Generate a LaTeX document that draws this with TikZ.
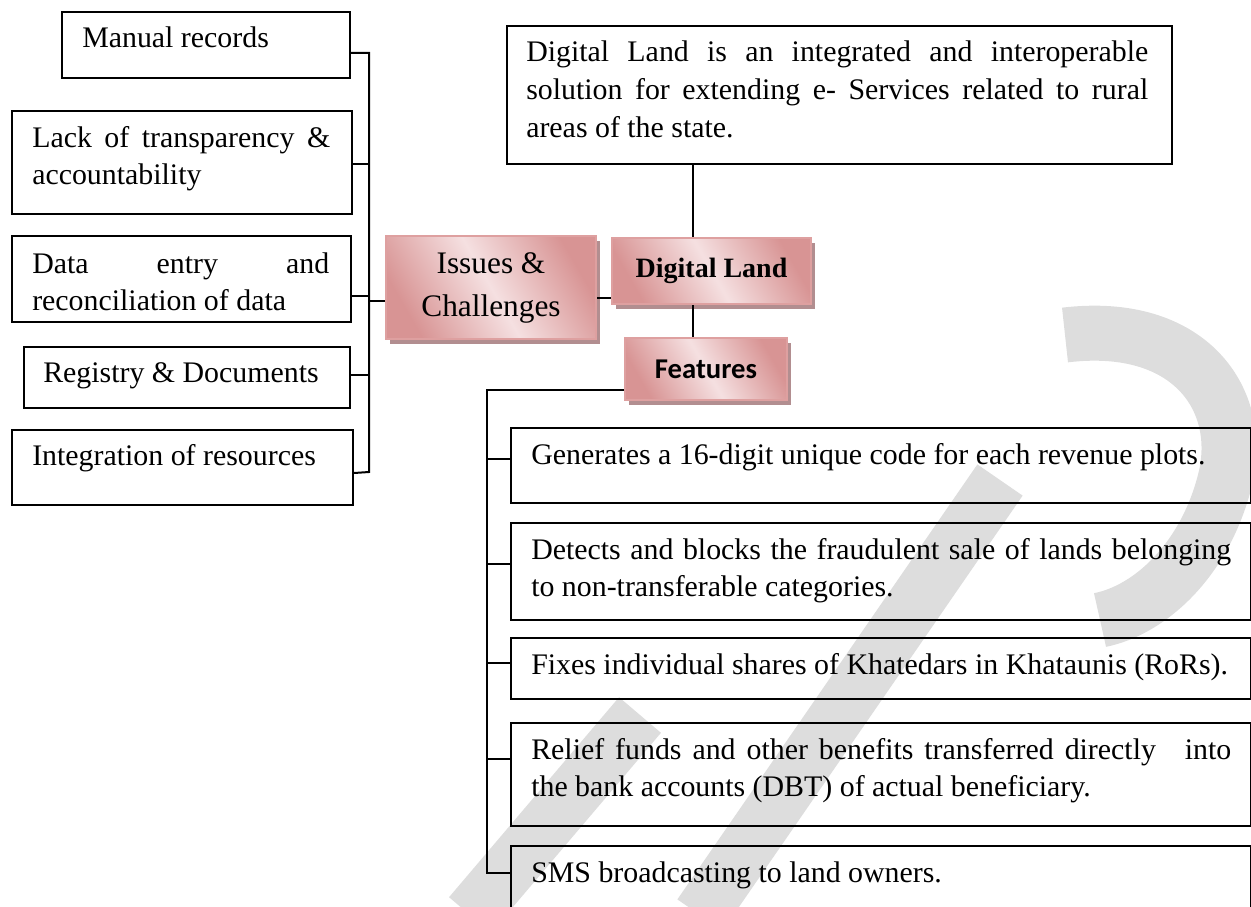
\documentclass[tikz,border=0pt]{standalone}
\usepackage{fontspec}
\setmainfont{Liberation Serif}
\newfontfamily\calfont{Carlito}
\usetikzlibrary{shadows}
\newdimen\px \px=0.75pt
\definecolor{pinkL}{RGB}{245,224,225}
\definecolor{pinkD}{RGB}{216,148,148}
\definecolor{pinkE}{RGB}{222,160,160}
\definecolor{shadowc}{RGB}{178,142,144}
\definecolor{wmc}{RGB}{221,221,221}
\newcommand{\bodyfont}{\fontsize{22.4}{28.2}\selectfont}
\begin{document}
\begin{tikzpicture}[x=0.75pt, y=-0.75pt,
  box/.style={draw=black, line width=2\px, inner sep=0pt, anchor=north west},
  txt/.style={inner sep=0pt, anchor=base west, font=\bodyfont},
  conn/.style={draw=black, line width=2\px},
  pinkbox/.style={draw=pinkE, line width=2\px, inner sep=0pt, anchor=north west, align=center,
    left color=pinkD, right color=pinkD, middle color=pinkL, shading angle=120,
    drop shadow={shadow xshift=4\px, shadow yshift=-5\px, fill=shadowc, opacity=1}},
  wmark/.style={draw=wmc, line width=55\px}]
\useasboundingbox (0,0) rectangle (1251,906);

% watermark
\draw[wmark] (470,915) -- (640,715);
\draw[wmark] (700,915) -- (1000,480);
\draw[wmark] (1065,335) .. controls (1190,320) and (1245,400) .. (1225,480) .. controls (1205,560) and (1150,610) .. (1100,620);

% left boxes
\node[box, minimum width=288\px, minimum height=66\px] (m1) at (61,11) {};
\node[box, minimum width=340\px, minimum height=103\px] (m2) at (11,110) {};
\node[box, minimum width=339\px, minimum height=86\px] (m3) at (11,235) {};
\node[box, minimum width=326\px, minimum height=61\px] (m4) at (23,346) {};
\node[box, minimum width=341\px, minimum height=75\px] (m5) at (11,429) {};
\node[txt] (t1) at (82,48) {Manual records};
\node[txt] (t2) at (32,147) {\parbox[t]{298\px}{\makebox[298\px][s]{Lack of transparency \&}\\accountability}};
\node[txt] (t3) at (32,273) {\parbox[t]{297\px}{\makebox[297\px][s]{Data entry and}\\reconciliation of data}};
\node[txt] (t4) at (43,382) {Registry \& Documents};
\node[txt] (t5) at (32,465) {Integration of resources};

% pink boxes
\node[pinkbox, minimum width=210\px, minimum height=103\px, font=\fontsize{23.5}{32.2}\selectfont] (iss) at (385,235) {Issues \&\\Challenges};
\node[pinkbox, minimum width=199\px, minimum height=66\px, font=\fontsize{21}{25}\selectfont\bfseries] (dl) at (611,237) {Digital Land};
\node[pinkbox, minimum width=162\px, minimum height=62\px, font=\calfont\bfseries\fontsize{21.5}{26}\selectfont] (feat) at (624,337) {Features};

% top box
\node[box, minimum width=665\px, minimum height=138\px] (top) at (506,25) {};
\node[txt] (ttop) at (526,62) {\parbox[t]{622\px}{\makebox[622\px][s]{Digital Land is an integrated and interoperable}\\\makebox[622\px][s]{solution for extending e- Services related to rural}\\areas of the state.}};

% feature boxes
\node[box, minimum width=740\px, minimum height=75\px] (f1) at (510,427) {};
\node[box, minimum width=740\px, minimum height=97\px] (f2) at (510,522) {};
\node[box, minimum width=740\px, minimum height=61\px] (f3) at (510,637) {};
\node[box, minimum width=740\px, minimum height=103\px] (f4) at (510,722) {};
\node[box, minimum width=740\px, minimum height=90\px] (f5) at (510,845) {};
\node[txt] (g1) at (531,464) {Generates a 16-digit unique code for each revenue plots.};
\node[txt] (g2) at (531,559) {\parbox[t]{700\px}{\makebox[700\px][s]{Detects and blocks the fraudulent sale of lands belonging}\\to non-transferable categories.}};
\node[txt] (g3) at (531,674) {Fixes individual shares of Khatedars in Khataunis (RoRs).};
\node[txt] (g4) at (531,759) {\parbox[t]{700\px}{\makebox[700\px][s]{Relief funds and other benefits transferred directly\hspace{0.6em} into}\\the bank accounts (DBT) of actual beneficiary.}};
\node[txt] (g5) at (531,882) {SMS broadcasting to land owners.};

% connectors
\coordinate (cx) at (693,0);
\coordinate (lbB) at (369,472);
\coordinate (fbB) at (487,873);
\draw[conn] (top.south -| cx) -- (dl.north -| cx);
\draw[conn] (dl.south -| cx) -- (feat.north -| cx);
\draw[conn] ([yshift=-10.5\px]iss.east) -- ([yshift=-27\px]dl.west);
\draw[conn] ([yshift=-8\px]m1.east) -| (lbB) -- ([yshift=-5.5\px]m5.east);
\draw[conn] ([yshift=-1.5\px]m2.east) -| (lbB);
\draw[conn] ([yshift=-17\px]m3.east) -| (lbB);
\draw[conn] ([yshift=2.5\px]m4.east) -| (lbB);
\draw[conn] ([yshift=-13.5\px]iss.west) -| (lbB);
\draw[conn] ([yshift=-21\px]feat.west) -| (fbB) -- ([yshift=-28\px]f5.north west);
\draw[conn] ([yshift=6.5\px]f1.west) -| (fbB);
\draw[conn] ([yshift=7.5\px]f2.west) -| (fbB);
\draw[conn] ([yshift=5.5\px]f3.west) -| (fbB);
\draw[conn] ([yshift=15.5\px]f4.west) -| (fbB);
\end{tikzpicture}
\end{document}
